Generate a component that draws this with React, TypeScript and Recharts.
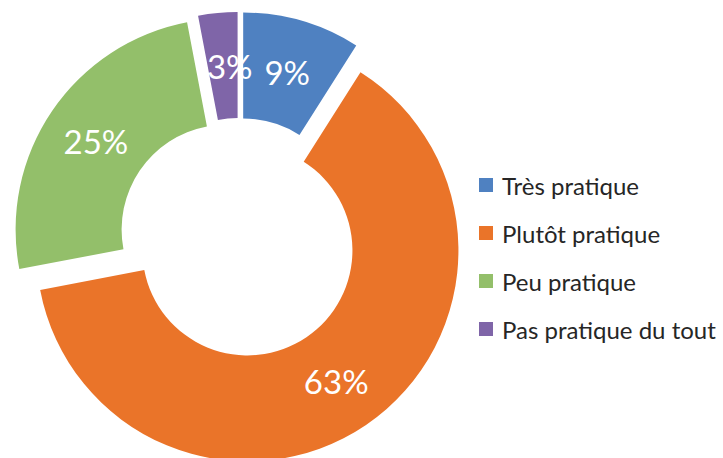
import { PieChart, Pie, Cell, Legend } from 'recharts';

const categories = ['Très pratique', 'Plutôt pratique', 'Peu pratique', 'Pas pratique du tout'];
const shares = [9, 63, 25, 3];
const colors = ['#4F81C1', '#EA7429', '#93BF6A', '#7F65A8'];

const data = categories.map((name, i) => ({ name, value: shares[i] }));
const total = shares.reduce((a, b) => a + b, 0);

const CX = 239;
const CY = 238;
const EXPLODE = 15;
const RADIAN = Math.PI / 180;
const FONT = 'Lato, Carlito, Calibri, sans-serif';
// the thin slice's label sits a bit to the right in the original
const labelShiftX = [0, 0, 0, 7];

// clockwise angle from 12 o'clock to the middle of each slice
const midAngles = shares.map((v, i) => {
  const before = shares.slice(0, i).reduce((a, b) => a + b, 0);
  return ((before + v / 2) / total) * 360;
});

const renderLabel = (slice: number) => (props: any) => {
  if (props.index !== slice) return <g />;
  const r = (props.innerRadius + props.outerRadius) / 2;
  const x = props.cx + r * Math.cos(-props.midAngle * RADIAN) + labelShiftX[slice];
  const y = props.cy + r * Math.sin(-props.midAngle * RADIAN);
  return (
    <text
      x={x}
      y={y}
      fill="#fff"
      textAnchor="middle"
      dominantBaseline="central"
      fontSize={33}
      fontFamily={FONT}
    >
      {props.value}%
    </text>
  );
};

const LegendContent = () => (
  <div style={{ fontFamily: FONT, fontSize: 24, color: '#262626' }}>
    {categories.map((c, i) => (
      <div key={c} style={{ display: 'flex', alignItems: 'center', height: 48 }}>
        <span
          style={{ width: 14, height: 14, background: colors[i], marginRight: 9, flex: 'none' }}
        />
        <span style={{ whiteSpace: 'nowrap' }}>{c}</span>
      </div>
    ))}
  </div>
);

export default function App() {
  return (
    <div style={{ position: 'absolute', left: 0, top: 0, width: 723, height: 458, background: '#fff' }}>
      <PieChart width={723} height={458} margin={{ top: 0, right: 0, bottom: 0, left: 0 }}>
        {shares.map((_, slice) => (
          <Pie
            key={slice}
            data={data}
            dataKey="value"
            nameKey="name"
            cx={CX + EXPLODE * Math.sin(midAngles[slice] * RADIAN)}
            cy={CY - EXPLODE * Math.cos(midAngles[slice] * RADIAN)}
            innerRadius={105}
            outerRadius={211}
            startAngle={90}
            endAngle={-270}
            stroke="none"
            labelLine={false}
            label={renderLabel(slice)}
            isAnimationActive={false}
          >
            {data.map((d, i) => (
              <Cell key={d.name} fill={i === slice ? colors[i] : 'none'} />
            ))}
          </Pie>
        ))}
        <Legend
          content={LegendContent}
          wrapperStyle={{ position: 'absolute', left: 479, top: 161, width: 244 }}
        />
      </PieChart>
    </div>
  );
}
